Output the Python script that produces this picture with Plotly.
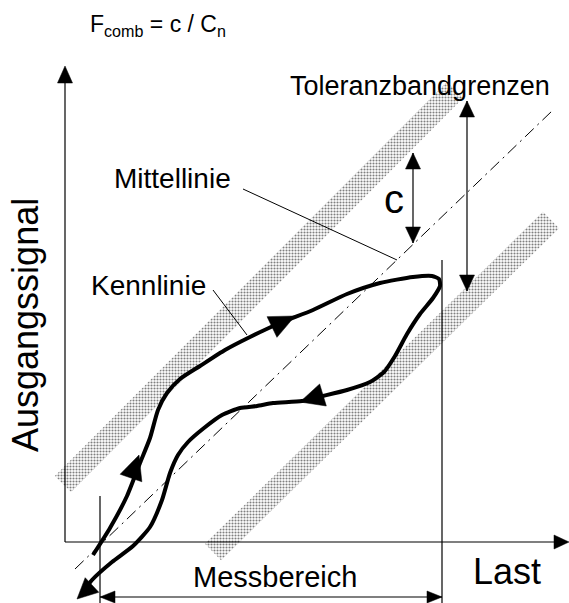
import numpy as np
import plotly.graph_objects as go

W, H = 569, 603
FONT = "Liberation Sans, Arial, sans-serif"

# ---- diagram geometry (pixel space of the schematic) ----
# Kennlinie (hysteresis loop): up branch then return branch
loop_x = [93, 110, 127, 140, 150, 158, 167, 180, 200, 225, 250, 280, 313, 347, 380, 413, 432, 439,
          440, 433, 420, 407, 395, 384, 370, 347, 323, 302, 273, 257, 240, 222, 204, 188, 178, 170,
          162, 150, 133, 112, 92, 84]
loop_y = [555, 528, 496, 463, 438, 410, 393, 379, 366, 350, 337, 323, 310, 294, 283, 277, 276, 279,
          286, 298, 314, 334, 356, 372, 382, 390, 396, 401, 403, 406, 408, 415, 428, 442, 455, 473,
          500, 527, 546, 562, 580, 591]

# curve arrowheads: tip x, tip y, base-centre x, base-centre y, half width
curve_arrow_tip_x = [139, 295, 300, 77]
curve_arrow_tip_y = [455, 316, 402, 599]
curve_arrow_base_x = [131, 272, 323, 92]
curve_arrow_base_y = [478, 327, 395, 585]
curve_arrow_half = [11.5, 11.5, 11.5, 10]

# Mittellinie (dash-dot)
mid_x = [75, 552]
mid_y = [569, 111]

# tolerance bands: centre line end points
band_up_x = [63, 455]
band_up_y = [484, 90]
band_lo_x = [213, 551]
band_lo_y = [552, 220]
band_half_width = 11.5

# axes
yaxis_x = [65, 65]
yaxis_y = [542, 70]
xaxis_x = [65, 560]
xaxis_y = [542, 542]

# thin vertical limits of Messbereich
lim_left_x = [100, 100]
lim_left_y = [496, 603]
lim_right_x = [442, 442]
lim_right_y = [260, 603]

# Messbereich double arrow
mess_x = [100, 442]
mess_y = [597, 597]
# tolerance double arrow
tol_x = [467, 467]
tol_y = [101, 291]
# c double arrow
c_x = [413, 413]
c_y = [153, 243]

# leader lines
lead_kenn_x = [213, 247]
lead_kenn_y = [290, 335]
lead_mitte_x = [243, 397]
lead_mitte_y = [189, 260]

fig = go.Figure()


def line(xs, ys, width=1.2, dash=None):
    fig.add_trace(go.Scatter(x=xs, y=ys, mode="lines",
                             line=dict(color="black", width=width, dash=dash),
                             hoverinfo="skip", showlegend=False))


def head(tx, ty, bx, by, half):
    d = np.array([tx - bx, ty - by], float)
    d /= np.linalg.norm(d)
    n = np.array([-d[1], d[0]])
    p1 = np.array([bx, by]) + n * half
    p2 = np.array([bx, by]) - n * half
    fig.add_trace(go.Scatter(x=[tx, p1[0], p2[0], tx], y=[ty, p1[1], p2[1], ty],
                             mode="lines", fill="toself", fillcolor="black",
                             line=dict(color="black", width=0.5),
                             hoverinfo="skip", showlegend=False))


def arrow_end(xs, ys, length=16, half=7):
    # arrowheads at both ends of a segment
    for i, j in ((0, 1), (1, 0)):
        tx, ty = xs[i], ys[i]
        ox, oy = xs[j], ys[j]
        d = np.array([tx - ox, ty - oy], float)
        d /= np.linalg.norm(d)
        head(tx, ty, tx - d[0] * length, ty - d[1] * length, half)


def band(xs, ys, hw):
    d = np.array([xs[1] - xs[0], ys[1] - ys[0]], float)
    d /= np.linalg.norm(d)
    n = np.array([-d[1], d[0]]) * hw
    px = [xs[0] + n[0], xs[1] + n[0], xs[1] - n[0], xs[0] - n[0], xs[0] + n[0]]
    py = [ys[0] + n[1], ys[1] + n[1], ys[1] - n[1], ys[0] - n[1], ys[0] + n[1]]
    fig.add_trace(go.Scatter(x=px, y=py, mode="lines", fill="toself",
                             fillcolor="rgba(0,0,0,0)",
                             fillpattern=dict(shape=".", fgcolor="black", bgcolor="white",
                                              size=3, solidity=0.4),
                             line=dict(width=0), hoverinfo="skip", showlegend=False))


band(band_up_x, band_up_y, band_half_width)
band(band_lo_x, band_lo_y, band_half_width)

line(mid_x, mid_y, 1, "12px,5px,2px,5px")

line(yaxis_x, yaxis_y)
head(65, 66, 65, 83, 7.5)
line(xaxis_x, xaxis_y)
head(569, 542, 554, 542, 7)

line(lim_left_x, lim_left_y)
line(lim_right_x, lim_right_y)

line(mess_x, mess_y)
arrow_end(mess_x, mess_y, 15, 6)
line(tol_x, tol_y)
arrow_end(tol_x, tol_y, 16, 7.5)
line(c_x, c_y)
arrow_end(c_x, c_y, 16, 7.5)

line(lead_kenn_x, lead_kenn_y, 1)
line(lead_mitte_x, lead_mitte_y, 1)

fig.add_trace(go.Scatter(x=loop_x, y=loop_y, mode="lines",
                         line=dict(color="black", width=4, shape="spline", smoothing=0.6),
                         hoverinfo="skip", showlegend=False))
for tx, ty, bx, by, hh in zip(curve_arrow_tip_x, curve_arrow_tip_y,
                              curve_arrow_base_x, curve_arrow_base_y, curve_arrow_half):
    head(tx, ty, bx, by, hh)


def text(s, x, y, size, xanchor="center", angle=0):
    fig.add_annotation(x=x, y=y, text=s, showarrow=False, xanchor=xanchor, yanchor="middle",
                       textangle=angle, font=dict(family=FONT, size=size, color="black"))


text("F<sub>comb</sub> = c / C<sub>n</sub>", 88, 25, 23, xanchor="left")
text("Toleranzbandgrenzen", 420, 86, 27)
text("Mittellinie", 172, 178, 28)
text("Kennlinie", 148, 285, 28)
text("c", 394, 199, 40)
text("Messbereich", 275, 577, 29)
text("Last", 507, 571, 36)
text("Ausgangssignal", 25, 325, 36, angle=-90)

fig.update_layout(width=W, height=H, margin=dict(l=0, r=0, t=0, b=0),
                  paper_bgcolor="white", plot_bgcolor="white",
                  xaxis=dict(range=[0, W], visible=False, fixedrange=True),
                  yaxis=dict(range=[H, 0], visible=False, fixedrange=True))

fig.write_html("out.html", config={"displayModeBar": False},
               post_script="document.body.style.margin='0';document.body.style.overflow='hidden';")
